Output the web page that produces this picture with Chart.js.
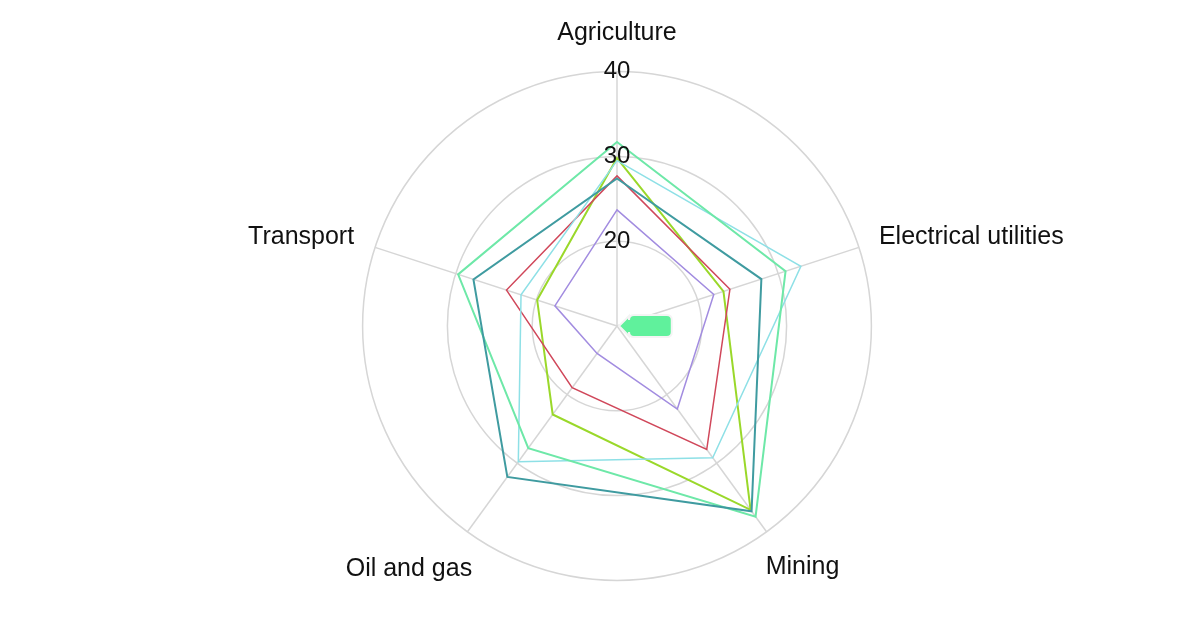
<!DOCTYPE html>
<html>
<head>
<meta charset="utf-8">
<script src="https://cdn.jsdelivr.net/npm/chart.js@4"></script>
<style>
  html, body { margin: 0; padding: 0; background: #fff; }
  #wrap { width: 1200px; height: 628px; }
</style>
</head>
<body>
<div id="wrap"><canvas id="radarChart"></canvas></div>
<script>
const sectors = ['Agriculture', 'Electrical utilities', 'Mining', 'Oil and gas', 'Transport'];
const tealValues = [27.4, 27.9, 37.0, 32.0, 27.8];
const mintValues = [31.7, 30.9, 37.8, 27.8, 29.7];
const cyanValues = [29.5, 32.8, 29.2, 29.8, 21.9];
const redValues = [27.7, 24.0, 28.0, 19.0, 23.7];
const limeValues = [29.8, 23.2, 36.8, 22.9, 19.9];
const purpleValues = [23.7, 22.0, 22.1, 14.0, 17.7];
const tickValues = [10, 20, 30, 40];

// per-label spacing, so the names sit like in the original
const labelPadding = [9.6, 7, -15.4, -22, 8];
const labelLineHeight = [1.2, 0.3, 2.94, 3.5, 0.3];

Chart.defaults.font.family = "'Liberation Sans', Arial, sans-serif";

// tooltip parked at the centre of the radar
Chart.Tooltip.positioners.center = function () {
  const r = this.chart.scales.r;
  return { x: r.xCenter, y: r.yCenter };
};

function line(values, color, width) {
  return {
    data: values,
    borderColor: color,
    backgroundColor: 'transparent',
    borderWidth: width,
    fill: false,
    pointRadius: 0,
    pointHoverRadius: 0
  };
}

const chart = new Chart(document.getElementById('radarChart'), {
  type: 'radar',
  data: {
    labels: sectors,
    datasets: [
      line(tealValues, '#3f9ba0', 2),
      line(mintValues, '#6ee8a8', 2),
      line(cyanValues, '#8ee0e6', 1.5),
      line(redValues, '#d0475a', 1.5),
      line(limeValues, '#9ad82a', 2),
      line(purpleValues, '#a28ce0', 1.5)
    ]
  },
  options: {
    responsive: true,
    maintainAspectRatio: false,
    animation: false,
    events: [],
    layout: { padding: { left: 34, top: 7, right: 0, bottom: 5 } },
    plugins: {
      legend: { display: false },
      tooltip: {
        position: 'center',
        xAlign: 'left',
        yAlign: 'center',
        backgroundColor: '#60f19c',
        borderColor: '#f4f4f4',
        borderWidth: 2,
        cornerRadius: 5,
        caretSize: 10,
        caretPadding: 2,
        displayColors: false,
        padding: { top: 5, bottom: 5, left: 20, right: 20 },
        bodyFont: { size: 10 },
        callbacks: {
          title: () => '',
          label: () => ' '
        }
      }
    },
    scales: {
      r: {
        min: tickValues[0],
        max: tickValues[tickValues.length - 1],
        ticks: {
          stepSize: 10,
          color: '#111',
          showLabelBackdrop: false,
          font: { size: 24 },
          z: 1
        },
        grid: { circular: true, color: '#d6d6d6', lineWidth: 1.5 },
        angleLines: { color: '#d6d6d6', lineWidth: 1.5 },
        pointLabels: {
          color: '#111',
          font: (ctx) => ({ size: 25, lineHeight: labelLineHeight[ctx.index] }),
          padding: (ctx) => labelPadding[ctx.index]
        }
      }
    }
  }
});

chart.tooltip.setActiveElements([{ datasetIndex: 0, index: 0 }], { x: 0, y: 0 });
chart.update();
</script>
</body>
</html>
